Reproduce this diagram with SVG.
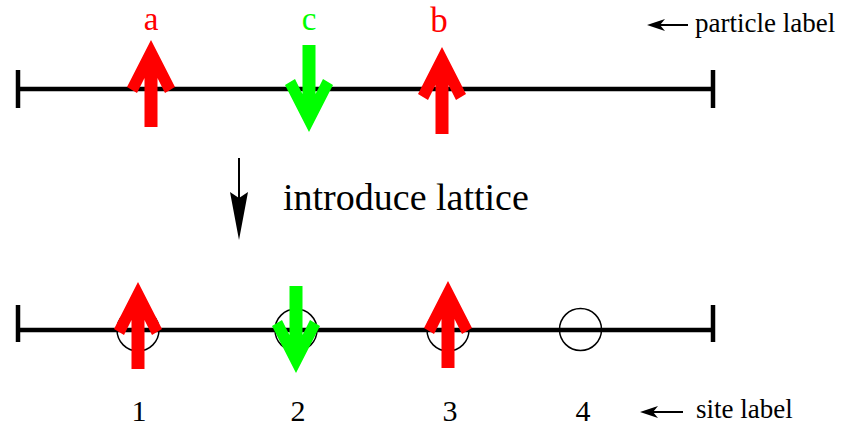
<svg xmlns="http://www.w3.org/2000/svg" width="841" height="428" viewBox="0 0 841 428">
<style>
.axis{stroke:#000;stroke-width:4.5;fill:none}
.site{stroke:#000;stroke-width:1.5;fill:none}
.thin{stroke:#000;stroke-width:2;fill:none}
.red{fill:#ff0000}
.green{fill:#00ff00}
.lbl{font-family:"Liberation Serif","Times New Roman",serif}
</style>
<defs>
<path id="spin" d="M0,0 L24,47 L14,53 L6.5,38 L6.5,87 L-6.5,87 L-6.5,38 L-14,53 L-24,47 Z"/>
<path id="smallhead" d="M0,0 L18,-6 L13,0 L18,6 Z" fill="#000"/>
</defs>
<g id="top-chain">
<line class="axis" x1="18" y1="89" x2="713" y2="89"/>
<line class="axis" x1="18" y1="70" x2="18" y2="108"/>
<line class="axis" x1="713" y1="70" x2="713" y2="108"/>
</g>
<g id="particle-a">
<use href="#spin" class="red" transform="translate(151,40)"/>
<text class="lbl" x="151" y="29.5" font-size="33" fill="#ff0000" text-anchor="middle">a</text>
</g>
<g id="particle-c">
<use href="#spin" class="green" transform="translate(309,132) rotate(180)"/>
<text class="lbl" x="309" y="29.5" font-size="33" fill="#00ff00" text-anchor="middle">c</text>
</g>
<g id="particle-b">
<use href="#spin" class="red" transform="translate(442,47)"/>
<text class="lbl" x="439" y="32" font-size="35" fill="#ff0000" text-anchor="middle">b</text>
</g>
<g id="particle-label">
<text class="lbl" x="695" y="32" font-size="27" fill="#000">particle label</text>
</g>
<g id="transition">
<text class="lbl" x="283" y="210" font-size="38" fill="#000">introduce lattice</text>
</g>
<g id="bottom-chain">
<line class="axis" x1="18" y1="330" x2="713" y2="330"/>
<line class="axis" x1="18" y1="305" x2="18" y2="342"/>
<line class="axis" x1="713" y1="305" x2="713" y2="342"/>
</g>
<g id="site-1">
<circle class="site" cx="138" cy="330" r="21"/>
<use href="#spin" class="red" transform="translate(138,282)"/>
<text class="lbl" x="139" y="421" font-size="30" fill="#000" text-anchor="middle">1</text>
</g>
<g id="site-2">
<circle class="site" cx="296" cy="330" r="21"/>
<use href="#spin" class="green" transform="translate(296,373) rotate(180)"/>
<text class="lbl" x="298" y="421" font-size="30" fill="#000" text-anchor="middle">2</text>
</g>
<g id="site-3">
<circle class="site" cx="448" cy="330" r="21"/>
<use href="#spin" class="red" transform="translate(448,281)"/>
<text class="lbl" x="450" y="421" font-size="30" fill="#000" text-anchor="middle">3</text>
</g>
<g id="site-4">
<circle class="site" cx="580.5" cy="329.5" r="21"/>
<text class="lbl" x="583" y="421" font-size="30" fill="#000" text-anchor="middle">4</text>
</g>
<g id="site-label">
<text class="lbl" x="696" y="418" font-size="27" fill="#000">site label</text>
</g>
<g id="connectors">
<line class="thin" x1="239" y1="158" x2="239" y2="200"/>
<path d="M230,192 L239,240 L248,192 L239,198 Z" fill="#000"/>
<line class="thin" x1="652" y1="25" x2="688" y2="25"/>
<use href="#smallhead" transform="translate(647,25)"/>
<line class="thin" x1="645" y1="412" x2="683" y2="412"/>
<use href="#smallhead" transform="translate(640,412)"/>
</g>
</svg>
